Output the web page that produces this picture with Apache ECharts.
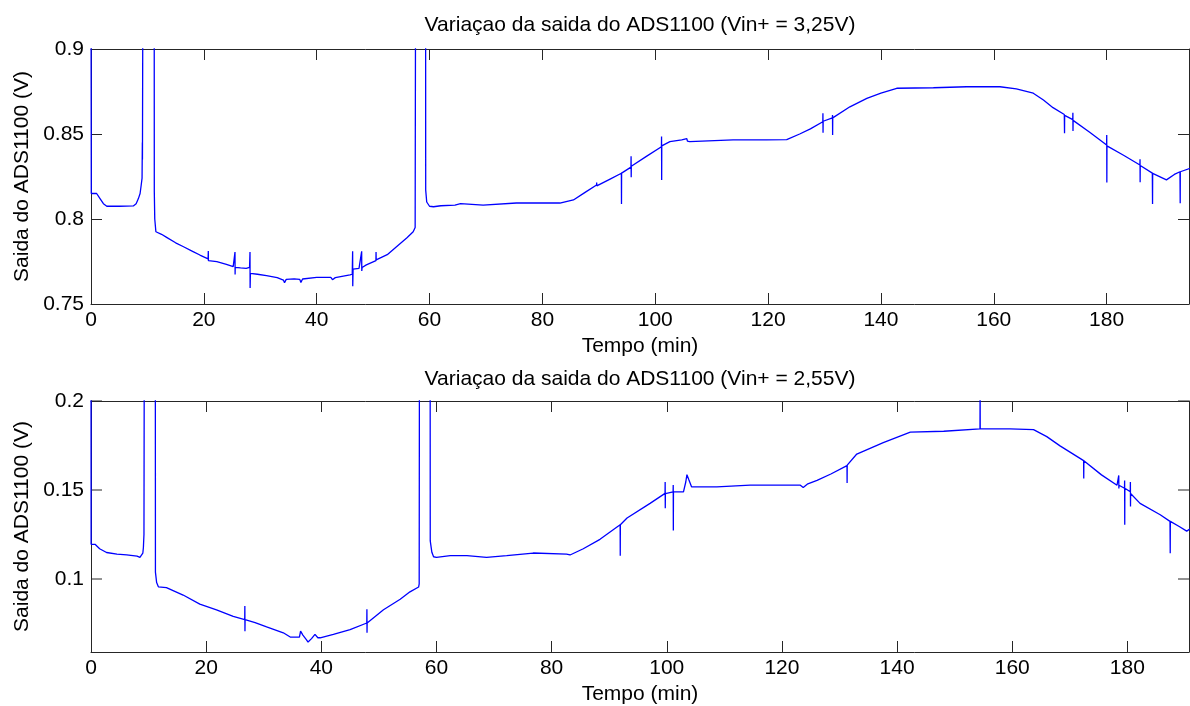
<!DOCTYPE html>
<html>
<head>
<meta charset="utf-8">
<script src="https://cdn.jsdelivr.net/npm/echarts@6/dist/echarts.min.js"></script>
<style>
html,body{margin:0;padding:0;background:#fff;}
#chart{width:1190px;height:706px;}
</style>
</head>
<body>
<div id="chart"></div>
<script>
// ---- Data ----
const titleTop = 'Variaçao da saida do ADS1100 (Vin+ = 3,25V)';
const titleBottom = 'Variaçao da saida do ADS1100 (Vin+ = 2,55V)';
const xName = 'Tempo (min)';
const yName = 'Saida do ADS1100 (V)';

const xTickStep = 20;
const topYTickStep = 0.05;
const botYTickValues = [0.1, 0.15, 0.2];

// Top plot (Vin+ = 3,25V): time (min)
const topT = [
  0, 0.05, 1.0, 1.6, 2.2, 2.8, 5.0, 7.5, 8.0, 8.4, 8.7, 8.9, 9.05, 9.1, 9.12, 9.2,
  11.2, 11.22, 11.3, 11.5, 12.5, 13.4, 15.0, 16.4, 18.0, 19.3,
  20.75, 20.79, 20.81, 20.85, 22.3, 24.0, 25.2, 25.5, 25.52, 25.54, 25.56,
  26.5, 27.5, 28.1, 28.18, 28.2, 28.25, 29.5, 31.1, 33.0, 34.1, 34.3, 34.6,
  36.0, 37.0, 37.2, 37.5, 40.0, 42.5, 42.8, 43.3, 45.9, 46.3, 46.37, 46.39, 46.45,
  47.5, 47.97, 47.99, 48.05, 48.8, 50.5, 50.52, 50.54, 52.5, 54.76, 56.0, 57.1, 57.45, 57.53,
  59.3, 59.32, 59.5, 60.0, 60.7, 62.0, 64.5, 64.6, 65.5, 65.6, 69.5, 75.4, 83.1, 85.5, 87.5,
  89.6, 89.62, 89.64, 92.0, 94.0, 94.02, 94.04, 95.7, 95.72, 95.74, 95.76, 98.5,
  101.1, 101.12, 101.14, 101.16, 102.6, 104.7, 104.8, 105.6, 105.7, 106.1, 113.8, 119.7, 123.3,
  125.6, 127.5, 129.7, 129.72, 129.74, 129.76, 131.4, 131.42, 131.44, 131.46,
  134.5, 137.5, 140.0, 142.8, 149.3, 155.2, 161.1, 164.0, 167.0, 168.8, 170.5,
  172.5, 172.52, 172.54, 172.56, 174.0, 174.02, 174.04, 174.06, 177.0,
  180.0, 180.02, 180.04, 180.06, 183.0, 185.9, 185.92, 185.94, 185.96,
  188.1, 188.12, 188.14, 188.16, 190.6, 192.0, 193.0, 193.02, 193.04, 193.06, 194.8
];
// Top plot: output (V)
const topV = [
  0.95, 0.815, 0.815, 0.812, 0.809, 0.8075, 0.8075, 0.8077, 0.809, 0.812, 0.815, 0.82, 0.824, 0.845, 0.835, 0.95,
  0.95, 0.816, 0.800, 0.7925, 0.791, 0.7892, 0.786, 0.7837, 0.781, 0.7788,
  0.7765, 0.7812, 0.7755, 0.7763, 0.7749, 0.7733, 0.772, 0.7718, 0.7806, 0.7673, 0.7715,
  0.7712, 0.771, 0.7715, 0.7806, 0.7594, 0.768, 0.7675, 0.7667, 0.7655, 0.7641, 0.7625, 0.7645,
  0.7648, 0.7645, 0.7627, 0.7647, 0.7657, 0.7657, 0.7643, 0.7655, 0.7671, 0.7675, 0.781, 0.7604, 0.7705,
  0.771, 0.781, 0.7694, 0.7715, 0.773, 0.7755, 0.7806, 0.776, 0.779, 0.7855, 0.789, 0.7925, 0.795, 0.95,
  0.95, 0.817, 0.81, 0.8075, 0.8072, 0.8078, 0.8082, 0.809, 0.809, 0.8082, 0.8082, 0.8094, 0.8094, 0.8112, 0.8155,
  0.82, 0.8215, 0.8195, 0.8235, 0.8269, 0.8088, 0.827, 0.8305, 0.8369, 0.8245, 0.831, 0.837,
  0.8425, 0.8485, 0.8229, 0.843, 0.8455, 0.8465, 0.8473, 0.8473, 0.8458, 0.8455, 0.8465, 0.8465, 0.8467,
  0.85, 0.853, 0.8572, 0.8622, 0.8508, 0.8575, 0.8595, 0.8612, 0.8494, 0.8595,
  0.866, 0.871, 0.874, 0.8769, 0.8772, 0.8778, 0.8778, 0.8765, 0.874, 0.87, 0.8655,
  0.8615, 0.862, 0.8505, 0.861, 0.8585, 0.8625, 0.8518, 0.858, 0.851,
  0.8435, 0.8494, 0.8214, 0.843, 0.8375, 0.8318, 0.8351, 0.8216, 0.8315,
  0.827, 0.8278, 0.8088, 0.8268, 0.823, 0.8262, 0.8278, 0.828, 0.8092, 0.8278, 0.8298
];

// Bottom plot (Vin+ = 2,55V): time (min)
const botT = [
  0, 0.02, 0.7, 1.5, 2.7, 4.5, 6.2, 8.0, 8.5, 9.0, 9.1, 9.2, 9.26,
  11.17, 11.19, 11.4, 11.7, 13.1, 16.0, 18.9, 21.8, 24.7,
  26.7, 26.72, 26.74, 26.76, 28.5, 30.5, 33.4, 34.6, 36.2, 36.4, 36.8, 37.4, 37.7, 38.3, 38.9, 39.4, 39.8,
  42.1, 45.0, 47.9, 47.92, 47.94, 47.96, 50.8, 53.7, 55.4, 56.9, 57.0, 57.05,
  58.9, 58.92, 59.2, 59.5, 60.0, 62.4, 65.3, 68.7, 72.2, 76.8, 82.6, 83.2, 85.5, 88.4,
  91.9, 91.92, 91.94, 93.1, 97.1, 99.7, 99.72, 99.74, 99.76,
  101.1, 101.12, 101.14, 101.16, 102.9, 103.3, 103.5, 103.8, 104.3, 108.7, 114.5, 123.2, 123.7, 124.5,
  126.1, 128.5, 131.3, 131.32, 131.34, 133.0, 137.6, 142.3, 148.1, 154.4, 154.42, 154.44,
  159.6, 163.7, 166.0, 168.3, 172.4, 172.42, 172.44, 175.5,
  178.2, 178.5, 178.52, 178.54, 179.5, 179.52, 179.54, 179.56, 180.5, 180.52, 180.54, 180.56,
  182.2, 185.7, 187.4, 187.42, 187.44, 187.46, 189.0, 190.3, 190.9
];
// Bottom plot: output (V)
const botV = [
  0.25, 0.1195, 0.1195, 0.117, 0.1149, 0.114, 0.1136, 0.1128, 0.1122, 0.1145, 0.1177, 0.1251, 0.25,
  0.25, 0.1039, 0.098, 0.0956, 0.0952, 0.091, 0.0859, 0.0827, 0.079,
  0.0772, 0.0849, 0.0707, 0.0772, 0.0755, 0.0731, 0.0698, 0.0674, 0.0674, 0.0707, 0.0685, 0.0660, 0.0646, 0.0665, 0.0689, 0.067, 0.067,
  0.0689, 0.0716, 0.0753, 0.083, 0.0698, 0.0753, 0.0827, 0.0886, 0.0928, 0.0955, 0.0973, 0.25,
  0.25, 0.1214, 0.115, 0.1125, 0.1122, 0.1131, 0.1131, 0.1122, 0.1131, 0.1146, 0.114, 0.1135, 0.117, 0.1223,
  0.1305, 0.1131, 0.1305, 0.1343, 0.1425, 0.1481, 0.1545, 0.1398, 0.148,
  0.149, 0.1528, 0.1272, 0.149, 0.149, 0.1545, 0.1586, 0.156, 0.1518, 0.1518, 0.1527, 0.1527, 0.1514, 0.1535,
  0.1554, 0.159, 0.1637, 0.154, 0.164, 0.1702, 0.1766, 0.1825, 0.183, 0.1843, 0.21, 0.1843,
  0.1843, 0.1839, 0.180, 0.1748, 0.1665, 0.1564, 0.1665, 0.1585,
  0.1527, 0.1582, 0.1509, 0.1527, 0.151, 0.1554, 0.1305, 0.151, 0.149, 0.1545, 0.1407, 0.148,
  0.1425, 0.1361, 0.1324, 0.1324, 0.1145, 0.1324, 0.1295, 0.1269, 0.1282
];

const topXMax = 194.6, botXMax = 190.7;
const topYMin = 0.75, topYMax = 0.9;
const botYMin = 0.059, botYMax = 0.2;

// ---- Chart ----
const FONT = '"Liberation Sans", Arial, Helvetica, sans-serif';
const AXIS_COLOR = '#262626';
const TEXT_COLOR = '#000';
const FS = 21;
const TICK_LEN = 11;

function zip(a, b) { return a.map((t, i) => [t, b[i]]); }
function isMultiple(v, step) {
  const r = v / step;
  return Math.abs(r - Math.round(r)) < 1e-6;
}
const axisLineStyle = { show: true, onZero: false, lineStyle: { color: AXIS_COLOR, width: 1 } };

function xAxisMain(gridIndex, max) {
  return {
    type: 'value', gridIndex, min: 0, max, interval: xTickStep, position: 'bottom',
    name: xName, nameLocation: 'middle', nameGap: 32,
    nameTextStyle: { fontFamily: FONT, fontSize: FS, color: TEXT_COLOR },
    axisLine: axisLineStyle,
    axisTick: { show: true, inside: true, length: TICK_LEN, lineStyle: { color: AXIS_COLOR, width: 1 } },
    axisLabel: { show: true, margin: 6, showMaxLabel: false, fontFamily: FONT, fontSize: FS, color: TEXT_COLOR,
      formatter: v => isMultiple(v, xTickStep) ? String(Math.round(v)) : '' },
    splitLine: { show: false }
  };
}
function xAxisTop(gridIndex, max) {
  return {
    type: 'value', gridIndex, min: 0, max, interval: xTickStep, position: 'top',
    axisLine: axisLineStyle,
    axisTick: { show: true, inside: true, length: TICK_LEN, lineStyle: { color: AXIS_COLOR, width: 1 } },
    axisLabel: { show: false },
    splitLine: { show: false }
  };
}
const yNameCommon = {
  name: yName, nameLocation: 'middle', nameGap: 51, nameRotate: 90,
  nameTextStyle: { fontFamily: FONT, fontSize: FS, color: TEXT_COLOR }
};

const chart = echarts.init(document.getElementById('chart'), null, { renderer: 'canvas' });
chart.setOption({
  animation: false,
  backgroundColor: '#fff',
  title: [
    { text: titleTop, left: 640, top: 15, textAlign: 'center', padding: 0,
      textStyle: { fontFamily: FONT, fontSize: FS, fontWeight: 'normal', color: TEXT_COLOR } },
    { text: titleBottom, left: 640, top: 369, textAlign: 'center', padding: 0,
      textStyle: { fontFamily: FONT, fontSize: FS, fontWeight: 'normal', color: TEXT_COLOR } }
  ],
  grid: [
    { left: 91, right: 1, top: 49, height: 255 },
    { left: 91, right: 1, top: 401, height: 255 }
  ],
  xAxis: [
    xAxisMain(0, topXMax), xAxisTop(0, topXMax),
    xAxisMain(1, botXMax), xAxisTop(1, botXMax)
  ],
  yAxis: [
    Object.assign({
      type: 'value', gridIndex: 0, min: topYMin, max: topYMax, interval: topYTickStep, position: 'left',
      axisLine: axisLineStyle,
      axisTick: { show: true, inside: true, length: TICK_LEN, lineStyle: { color: AXIS_COLOR, width: 1 } },
      axisLabel: { show: true, margin: 7, fontFamily: FONT, fontSize: FS, color: TEXT_COLOR,
        formatter: v => isMultiple(v, topYTickStep) ? String(+v.toFixed(2)) : '' },
      splitLine: { show: false }
    }, yNameCommon),
    {
      type: 'value', gridIndex: 0, min: topYMin, max: topYMax, interval: topYTickStep, position: 'right',
      axisLine: axisLineStyle,
      axisTick: { show: true, inside: true, length: TICK_LEN, lineStyle: { color: AXIS_COLOR, width: 1 } },
      axisLabel: { show: false }, splitLine: { show: false }
    },
    Object.assign({
      type: 'value', gridIndex: 1, min: botYMin, max: botYMax, position: 'left',
      axisLine: axisLineStyle,
      axisTick: { show: false },
      axisLabel: { show: true, margin: 7, customValues: botYTickValues, fontFamily: FONT, fontSize: FS, color: TEXT_COLOR,
        formatter: v => String(+v.toFixed(2)) },
      splitLine: { show: false }
    }, yNameCommon),
    {
      type: 'value', gridIndex: 1, min: botYMin, max: botYMax, position: 'right',
      axisLine: axisLineStyle,
      axisTick: { show: false },
      axisLabel: { show: false }, splitLine: { show: false }
    }
  ],
  series: [
    { type: 'line', xAxisIndex: 0, yAxisIndex: 0, data: zip(topT, topV), showSymbol: false,
      clip: true, silent: true, lineStyle: { color: '#0000ff', width: 1.3 }, itemStyle: { color: '#0000ff' } },
    { type: 'line', xAxisIndex: 2, yAxisIndex: 2, data: zip(botT, botV), showSymbol: false,
      clip: true, silent: true, lineStyle: { color: '#0000ff', width: 1.3 }, itemStyle: { color: '#0000ff' } },
    // inward tick marks of the bottom plot's y axes, placed through the axis scale
    { type: 'custom', xAxisIndex: 2, yAxisIndex: 2, silent: true, clip: false,
      data: botYTickValues.map(v => [0, v]),
      renderItem: function (params, api) {
        const y = api.value(1);
        const pL = api.coord([0, y]);
        const pR = api.coord([botXMax, y]);
        const st = { stroke: AXIS_COLOR, lineWidth: 1 };
        return { type: 'group', children: [
          { type: 'line', shape: { x1: pL[0], y1: pL[1], x2: pL[0] + TICK_LEN, y2: pL[1] }, style: st },
          { type: 'line', shape: { x1: pR[0], y1: pR[1], x2: pR[0] - TICK_LEN, y2: pR[1] }, style: st }
        ] };
      }
    }
  ]
});
</script>
</body>
</html>
